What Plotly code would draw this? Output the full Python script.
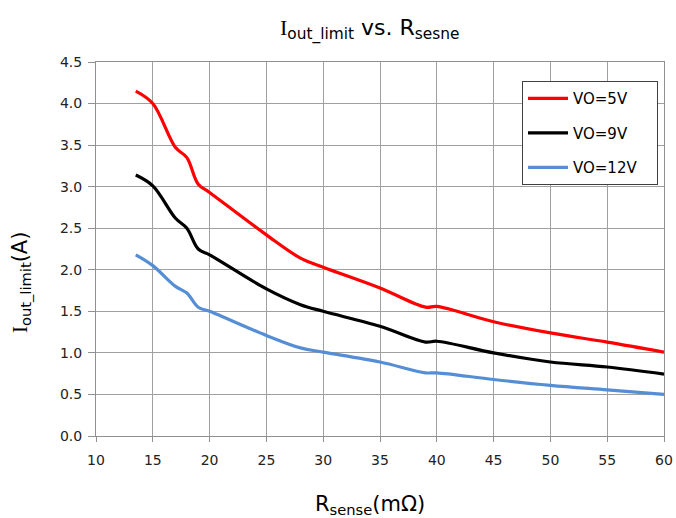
import plotly.graph_objects as go

r_sense = [13.5, 15, 17, 18, 19, 20, 25, 28, 30, 35, 39, 40, 45, 50, 55, 60]
vo_5v = [4.15, 4.00, 3.47, 3.35, 3.03, 2.93, 2.42, 2.14, 2.03, 1.78, 1.55, 1.56, 1.375, 1.24, 1.13, 1.01]
vo_9v = [3.14, 3.01, 2.62, 2.50, 2.25, 2.18, 1.77, 1.58, 1.50, 1.32, 1.13, 1.14, 1.00, 0.89, 0.83, 0.745]
vo_12v = [2.18, 2.05, 1.80, 1.72, 1.55, 1.50, 1.21, 1.06, 1.01, 0.89, 0.76, 0.76, 0.68, 0.61, 0.555, 0.50]

series = [("VO=5V", vo_5v, "#FF0000"), ("VO=9V", vo_9v, "#000000"), ("VO=12V", vo_12v, "#558ED5")]

FONT = "DejaVu Sans"
SERIF = "Liberation Serif"

fig = go.Figure()
for i, (name, ys, col) in enumerate(series):
    fig.add_trace(go.Scatter(
        x=r_sense, y=ys, name=name + "\u00a0\u00a0\u00a0", mode="lines",
        line=dict(color=col, width=3.2, shape="spline", smoothing=1.0),
        legendgroup=f"g{i}",
    ))

W, H = 676, 518
fig.update_layout(
    width=W, height=H,
    margin=dict(l=96, r=12, t=62, b=82, autoexpand=False),
    paper_bgcolor="white", plot_bgcolor="white",
    font=dict(family=FONT, color="#222222", size=14),
    title=dict(
        text=f'<span style="font-family:{SERIF}">I</span><sub>out_limit</sub> vs. R<sub>sesne</sub>',
        x=0.547, xanchor="center", y=1 - 27 / H, yanchor="middle",
        font=dict(size=22, family=FONT, color="#000000"),
    ),
    showlegend=True,
    legend=dict(
        x=0.75, y=0.949, xanchor="left", yanchor="top",
        bgcolor="white", bordercolor="#404040", borderwidth=1,
        font=dict(size=15, family=FONT, color="#000000"),
        tracegroupgap=12, itemwidth=40,
    ),
    annotations=[
        dict(text=f'<span style="font-family:{SERIF}">I</span><sub>out_limit</sub>(A)',
             xref="paper", yref="paper", x=-0.132, y=0.409, textangle=-90,
             showarrow=False, xanchor="center", yanchor="middle",
             font=dict(size=21, family=FONT, color="#000000")),
        dict(text='R<sub>sense</sub>(mΩ)',
             xref="paper", yref="paper", x=0.482, y=-0.184,
             showarrow=False, xanchor="center", yanchor="middle",
             font=dict(size=21, family=FONT, color="#000000")),
    ],
)

fig.update_xaxes(
    range=[10, 60], dtick=5, tick0=10, automargin=False,
    showgrid=True, gridcolor="#A0A0A0", gridwidth=1,
    showline=True, linecolor="#909090", linewidth=1, mirror=True,
    ticks="outside", ticklen=5, tickcolor="#909090", ticklabelstandoff=6,
    tickfont=dict(size=14, family=FONT, color="#222222"),
    zeroline=False,
)
fig.update_yaxes(
    range=[0, 4.5], dtick=0.5, tick0=0, tickformat=".1f", automargin=False,
    showgrid=True, gridcolor="#A0A0A0", gridwidth=1,
    showline=True, linecolor="#909090", linewidth=1, mirror=True,
    ticks="outside", ticklen=7, tickcolor="#909090", ticklabelstandoff=3,
    tickfont=dict(size=14, family=FONT, color="#222222"),
    zeroline=False,
)

fig.write_html(
    "out.html",
    config={"displayModeBar": False},
    post_script="document.body.style.margin='0';document.body.style.overflow='hidden';",
)
